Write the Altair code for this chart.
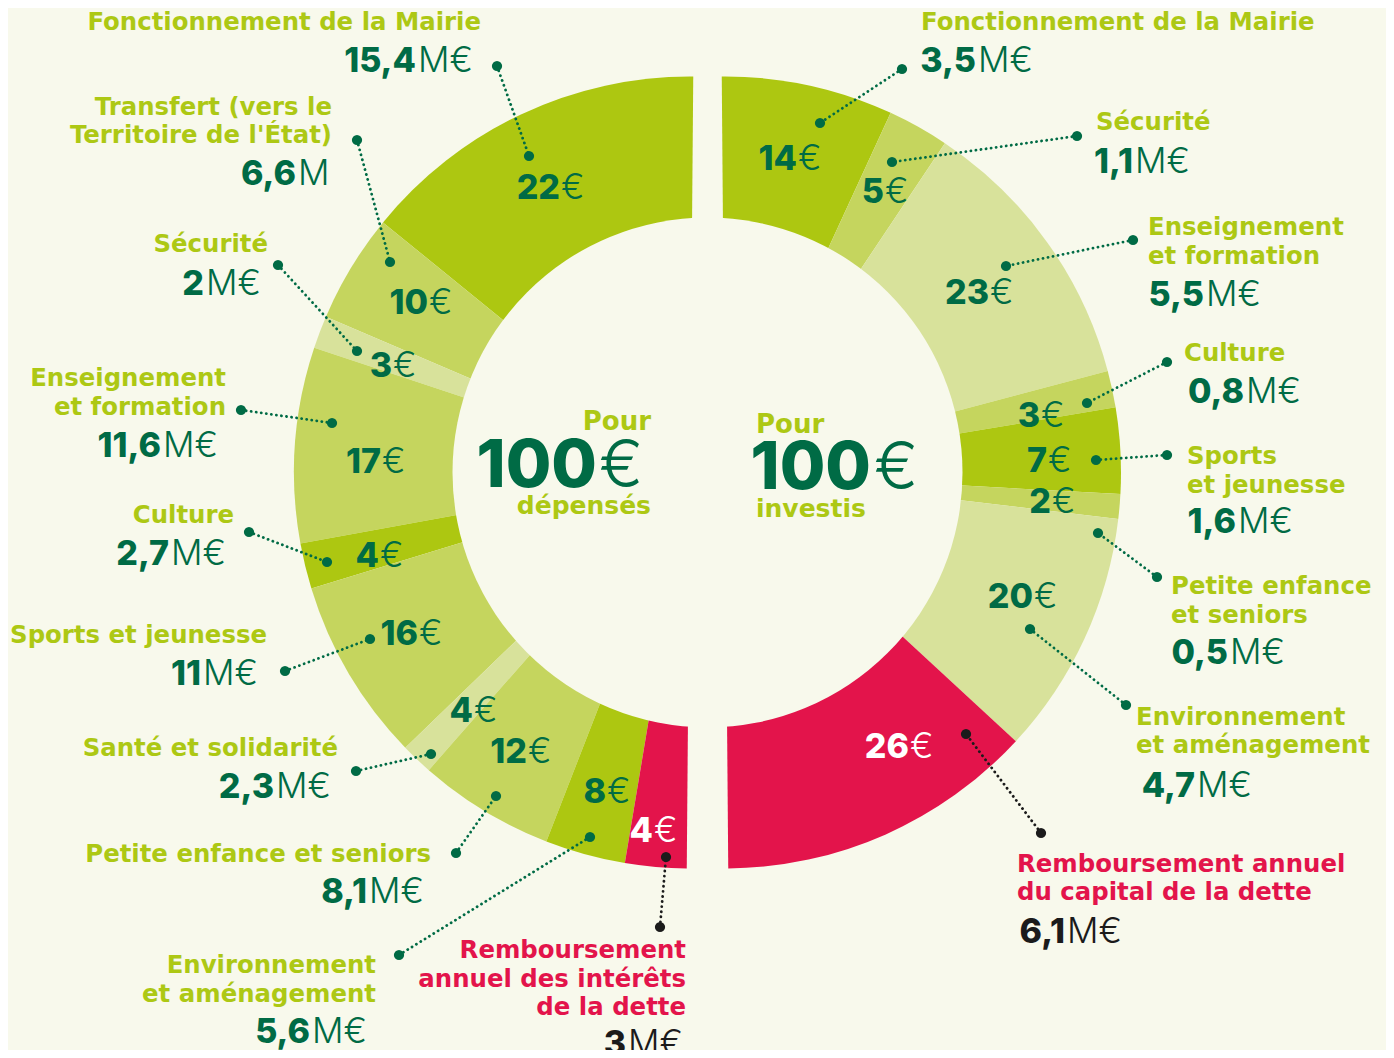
import math
import altair as alt
import pandas as pd

W, H = 1378, 1042
OFF = 8  # page margin: layout positions below are page pixels

BG = "#F8F9EC"
LIME = "#ADC711"
MID = "#C5D55E"
LIGHT = "#D8E29B"
RED = "#E3144B"
DKG = "#006B45"
LBLG = "#ADC814"
BLACK = "#1B1B1B"
WHITE = "#FFFFFF"
NUM_FONT = "Inter"
LBL_FONT = "DejaVu Sans"
LBL_SIZE = 24.4

# ---------------- data ----------------
left_lines = [
    ["Fonctionnement de la Mairie"],
    ["Transfert (vers le", "Territoire de l'État)"],
    ["Sécurité"],
    ["Enseignement", "et formation"],
    ["Culture"],
    ["Sports et jeunesse"],
    ["Santé et solidarité"],
    ["Petite enfance et seniors"],
    ["Environnement", "et aménagement"],
    ["Remboursement", "annuel des intérêts", "de la dette"],
]
left_euros = [22, 10, 3, 17, 4, 16, 4, 12, 8, 4]
left_meur = ["15,4", "6,6", "2", "11,6", "2,7", "11", "2,3", "8,1", "5,6", "3"]
left_unit = ["M€", "M", "M€", "M€", "M€", "M€", "M€", "M€", "M€", "M€"]
# arc widths as drawn in the picture (degrees of the half circle)
left_span = [51.3, 16, 4.8, 28.7, 6.7, 27, 4.7, 20, 11.8, 9]

right_lines = [
    ["Fonctionnement de la Mairie"],
    ["Sécurité"],
    ["Enseignement", "et formation"],
    ["Culture"],
    ["Sports", "et jeunesse"],
    ["Petite enfance", "et seniors"],
    ["Environnement", "et aménagement"],
    ["Remboursement annuel", "du capital de la dette"],
]
right_euros = [14, 5, 23, 3, 7, 2, 20, 26]
right_meur = ["3,5", "1,1", "5,5", "0,8", "1,6", "0,5", "4,7", "6,1"]
right_unit = ["M€"] * 8

center_left = ["Pour", "100", "€", "dépensés"]
center_right = ["Pour", "100", "€", "investis"]

# ---------------- styles ----------------
left_fill = [LIME, MID, LIGHT, MID, LIME, MID, LIGHT, MID, LIME, RED]
right_fill = [LIME, MID, LIGHT, MID, LIME, MID, LIGHT, RED]
left_kind = ["g"] * 9 + ["r"]
right_kind = ["g"] * 7 + ["r"]

# ---------------- layout (page px) ----------------
L_name_x = [481, 332, 268, 226, 234, 267, 338, 431, 376, 686]
L_name_y = [[30], [115, 143], [252], [386, 415], [523], [643], [756], [862], [973, 1002], [958, 987, 1015]]
L_split = [416, 296, 204, 161, 169, 201, 274, 367, 310, 626]
L_num_y = [72, 185, 295, 457, 565, 685, 798, 903, 1043, 1055]
L_dot_out = [(497, 66), (357, 140), (278, 265), (241, 410), (249, 532), (285, 671), (356, 771), (456, 853), (399, 955), (660, 927)]
L_dot_in = [(529, 156), (390, 262), (357, 351), (332, 423), (327, 562), (370, 639), (431, 754), (496, 796), (590, 837), (666, 857)]
L_seg_split = [560, 428, 392, 381, 379, 418, 473, 527, 606, 653]
L_seg_y = [199, 314, 377, 473, 567, 645, 722, 763, 803, 842]

R_name_x = [921, 1096, 1148, 1184, 1187, 1171, 1136, 1017]
R_name_y = [[30], [130], [235, 264], [361], [464, 493], [594, 623], [725, 753], [872, 900]]
R_split = [976, 1133, 1204, 1244, 1236, 1228, 1195, 1065]
R_num_y = [72, 173, 306, 403, 533, 664, 797, 943]
R_dot_out = [(902, 69), (1077, 136), (1133, 240), (1167, 362), (1167, 455), (1157, 577), (1126, 705), (1041, 833)]
R_dot_in = [(820, 123), (892, 162), (1006, 266), (1087, 403), (1096, 460), (1098, 533), (1030, 629), (966, 734)]
R_seg_split = [797, 884, 989, 1040, 1047, 1051, 1033, 909]
R_seg_y = [170, 203, 304, 427, 472, 513, 608, 758]

L_center = (690, 472.5)
R_center = (725, 472.5)
HOLE_center = (707.5, 472.5)
R_OUT = 396
R_HOLE = 255
ROT = math.radians(0.47)

# ---------------- build tables ----------------
XS = alt.Scale(domain=[0, W], range=[0, W], nice=False, zero=False)
YS = alt.Scale(domain=[0, H], range=[0, H], nice=False, zero=False)

rows = []  # text rows


def add(t, x, y, align, weight, size, color, font):
    rows.append(dict(t=t, x=x - OFF, y=y - OFF, align=align, weight=weight, s=size, c=color, f=font))


leaders = []
dots = []

for side in ("L", "R"):
    if side == "L":
        lines, euros, meur, unit, kind = left_lines, left_euros, left_meur, left_unit, left_kind
        nx, ny, sp, numy, dout, din, ssp, sy = L_name_x, L_name_y, L_split, L_num_y, L_dot_out, L_dot_in, L_seg_split, L_seg_y
        nalign = "right"
    else:
        lines, euros, meur, unit, kind = right_lines, right_euros, right_meur, right_unit, right_kind
        nx, ny, sp, numy, dout, din, ssp, sy = R_name_x, R_name_y, R_split, R_num_y, R_dot_out, R_dot_in, R_seg_split, R_seg_y
        nalign = "left"
    for i in range(len(lines)):
        red = kind[i] == "r"
        for ln, yy in zip(lines[i], ny[i]):
            add(ln, nx[i], yy, nalign, 700, LBL_SIZE, RED if red else LBLG, LBL_FONT)
        numc = BLACK if red else DKG
        add(meur[i], sp[i], numy[i], "right", 800, 34, numc, NUM_FONT)
        add(unit[i], sp[i] + 2, numy[i], "left", 300, 35, numc, NUM_FONT)
        segc = WHITE if red else DKG
        add(str(euros[i]), ssp[i], sy[i], "right", 800, 34, segc, NUM_FONT)
        add("€", ssp[i] + 1, sy[i], "left", 300, 35, segc, NUM_FONT)
        lc = BLACK if red else DKG
        leaders.append(dict(x=dout[i][0] - OFF, y=dout[i][1] - OFF, x2=din[i][0] - OFF, y2=din[i][1] - OFF, c=lc))
        dots.append(dict(x=dout[i][0] - OFF, y=dout[i][1] - OFF, c=lc))
        dots.append(dict(x=din[i][0] - OFF, y=din[i][1] - OFF, c=lc))

# center texts
add(center_left[0], 651, 430, "right", 700, 26, LBLG, LBL_FONT)
add(center_left[1], 597, 487, "right", 800, 66, DKG, NUM_FONT)
add(center_left[2], 599, 487, "left", 300, 66, DKG, NUM_FONT)
add(center_left[3], 651, 514, "right", 700, 25, LBLG, LBL_FONT)
add(center_right[0], 756, 433, "left", 700, 26, LBLG, LBL_FONT)
add(center_right[1], 871, 489, "right", 800, 66, DKG, NUM_FONT)
add(center_right[2], 874, 489, "left", 300, 66, DKG, NUM_FONT)
add(center_right[3], 756, 517, "left", 700, 25, LBLG, LBL_FONT)

text_df = pd.DataFrame(rows)
lead_df = pd.DataFrame(leaders)
dot_df = pd.DataFrame(dots)

left_df = pd.DataFrame({"idx": range(len(left_span)), "span": left_span, "col": left_fill})
right_df = pd.DataFrame({"idx": range(len(right_euros)), "span": right_euros, "col": right_fill})

# ---------------- marks ----------------
left_pie = alt.Chart(left_df).mark_arc(outerRadius=R_OUT, innerRadius=0).encode(
    theta=alt.Theta("span:Q", stack=True,
                    scale=alt.Scale(domain=[0, 180], range=[2 * math.pi + ROT, math.pi + ROT])),
    order=alt.Order("idx:Q"),
    color=alt.Color("col:N", scale=None),
    x=alt.value(L_center[0] - OFF),
    y=alt.value(L_center[1] - OFF),
)

right_pie = alt.Chart(right_df).mark_arc(outerRadius=R_OUT, innerRadius=0).encode(
    theta=alt.Theta("span:Q", stack=True,
                    scale=alt.Scale(domain=[0, 100], range=[2 * math.pi - ROT, 3 * math.pi - ROT])),
    order=alt.Order("idx:Q"),
    color=alt.Color("col:N", scale=None),
    x=alt.value(R_center[0] - OFF),
    y=alt.value(R_center[1] - OFF),
)

# symbol size = (diameter)^2 for a Vega circle
hole = alt.Chart(pd.DataFrame({"k": [1]})).mark_circle(
    size=(2 * R_HOLE) ** 2, color=BG, opacity=1, strokeWidth=0
).encode(x=alt.value(HOLE_center[0] - OFF), y=alt.value(HOLE_center[1] - OFF))

lead = alt.Chart(lead_df).mark_rule(strokeWidth=2.8, strokeDash=[0.1, 5], strokeCap="round").encode(
    x=alt.X("x:Q", scale=XS, axis=None),
    y=alt.Y("y:Q", scale=YS, axis=None),
    x2="x2:Q",
    y2="y2:Q",
    color=alt.Color("c:N", scale=None),
)

dot = alt.Chart(dot_df).mark_circle(size=105, opacity=1).encode(
    x=alt.X("x:Q", scale=XS, axis=None),
    y=alt.Y("y:Q", scale=YS, axis=None),
    color=alt.Color("c:N", scale=None),
)

text_layers = []
for (al, wt, fn), sub in text_df.groupby(["align", "weight", "f"]):
    text_layers.append(
        alt.Chart(sub).mark_text(align=al, baseline="alphabetic", font=fn, fontWeight=int(wt)).encode(
            x=alt.X("x:Q", scale=XS, axis=None),
            y=alt.Y("y:Q", scale=YS, axis=None),
            text=alt.Text("t:N"),
            color=alt.Color("c:N", scale=None),
            size=alt.Size("s:Q", scale=None),
        )
    )

chart = alt.layer(left_pie, right_pie, hole, lead, dot, *text_layers).resolve_scale(
    theta="independent"
).properties(
    width=W, height=H, padding=0, background=BG,
    autosize=alt.AutoSizeParams(type="none"),
).configure_view(stroke=None)

chart.save("out.html", embed_options={"renderer": "svg", "actions": False})
